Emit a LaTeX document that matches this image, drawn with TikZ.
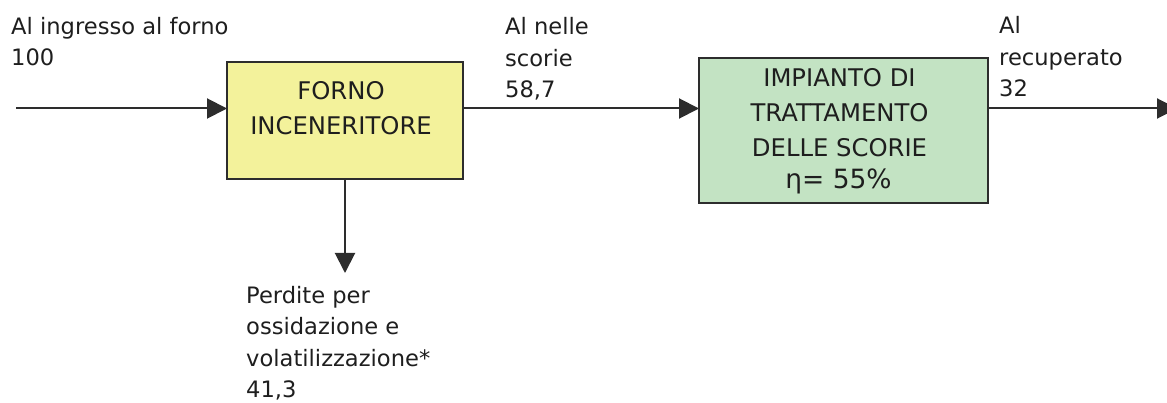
\documentclass[tikz,border=0pt]{standalone}
\usepackage{fontspec}
\setmainfont{DejaVu Sans}
\usetikzlibrary{arrows.meta}
\definecolor{fornofill}{RGB}{243,242,155}
\definecolor{impfill}{RGB}{195,227,195}
\definecolor{ink}{RGB}{30,30,30}
\definecolor{linec}{RGB}{45,45,45}
\begin{document}
\begin{tikzpicture}[x=1pt,y=-1pt,
  box/.style={draw=linec, line width=1.3pt, inner sep=0pt, outer sep=0pt},
  lbl/.style={font=\fontsize{22.6}{31.5}\selectfont, text=ink, align=left, anchor=base west, inner sep=0pt},
  boxtxt/.style={font=\fontsize{24.3}{35}\selectfont, text=ink, align=center, anchor=base, inner sep=0pt},
  flow/.style={draw=linec, line width=2pt, -{Triangle[length=20pt,width=20pt]}}]
\useasboundingbox (0,0) rectangle (1167,403);
% boxes
\node[box, fill=fornofill, minimum width=236pt, minimum height=117pt] (forno) at (345,120.5) {};
\node[boxtxt] (fornotxt) at (341,135) {FORNO\\INCENERITORE};
\node[box, fill=impfill, minimum width=289pt, minimum height=145pt] (impianto) at (843.5,130.5) {};
\node[boxtxt] (imptxt) at (839.5,157) {IMPIANTO DI\\TRATTAMENTO\\DELLE SCORIE};
\node[boxtxt, font=\fontsize{26.5}{32}\selectfont] (eta) at (838.5,189) {η= 55\%};
% labels
\node[lbl] (lin) at (11,66) {Al ingresso al forno\\100};
\node[lbl] (lscorie) at (505,98) {Al nelle\\scorie\\58,7};
\node[lbl] (lrec) at (999,97) {Al\\recuperato\\32};
\node[lbl] (lperdite) at (246,397.5) {Perdite per\\ossidazione e\\volatilizzazione*\\41,3};
% connectors
\coordinate (start) at (16,108.5);
\coordinate (ly) at (0,108.5);
\coordinate (down) at (345,273);
\coordinate (end) at (1177,108.5);
\draw[flow] (start) -- (start -| forno.west);
\draw[flow] (forno.east |- ly) -- (impianto.west |- ly);
\draw[flow] (impianto.east |- ly) -- (end);
\draw[flow] (forno.south) -- (down);
\end{tikzpicture}
\end{document}
